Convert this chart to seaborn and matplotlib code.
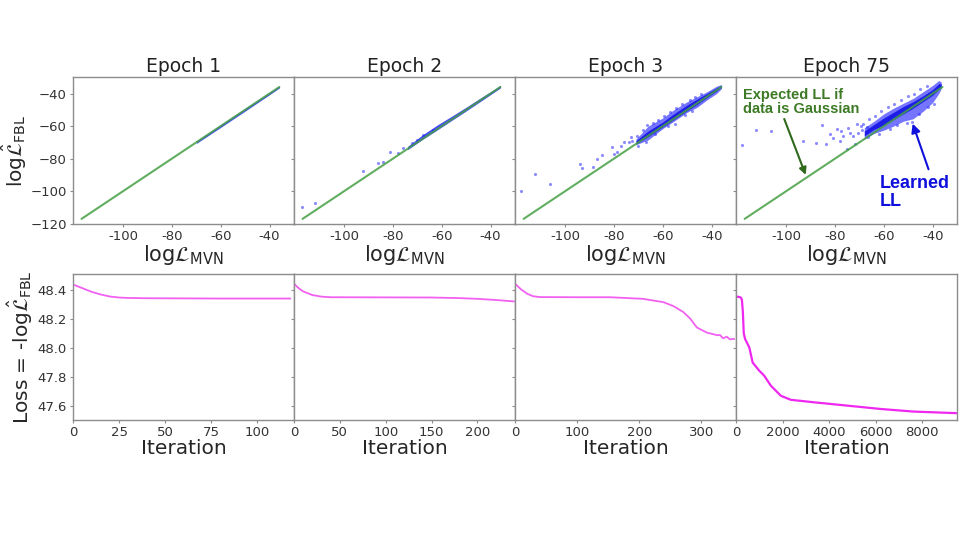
import numpy as np
import pandas as pd
import matplotlib
matplotlib.use("Agg")
import matplotlib.pyplot as plt
import seaborn as sns

# ---------------- data ----------------
titles = ["Epoch 1", "Epoch 2", "Epoch 3", "Epoch 75"]
diag_x = [-117, -36]

top_yticks = [-120, -100, -80, -60, -40]
top_ytick_labels = ["\u2212120", "\u2212100", "\u221280", "\u221260", "\u221240"]
top_xticks = [-100, -80, -60, -40]
top_xtick_labels = ["-100", "-80", "-60", "-40"]

# dense scatter band (outer edge and core) per panel
band1_x = [-70, -60, -50, -40, -36]
band1_lo = [-70.7, -60.8, -50.8, -40.7, -36.6]
band1_hi = [-69.3, -59.2, -49.2, -39.3, -35.4]

band2_x = [-74, -68, -62, -56, -50, -44, -38, -36]
band2_lo = [-74.5, -68.3, -62.5, -56.6, -50.7, -44.7, -38.6, -36.6]
band2_hi = [-72.5, -65.5, -59.5, -54.0, -48.4, -42.6, -37.0, -35.0]

band3_x = [-71, -66, -60, -56, -50, -46, -42, -38, -36]
band3_lo = [-71.5, -68.5, -61.5, -57.6, -51.5, -48.5, -44.0, -40.0, -37.0]
band3_hi = [-68.0, -60.0, -55.0, -50.5, -45.0, -42.0, -39.0, -35.5, -34.5]
core3_lo = [-71.0, -66.5, -60.5, -56.5, -50.5, -46.8, -42.6, -38.5, -36.3]
core3_hi = [-69.0, -63.0, -57.5, -53.0, -47.0, -43.5, -40.0, -36.5, -35.0]

band4_x = [-68, -64, -60, -56, -52, -48, -44, -40, -37.5, -36.5]
band4_lo = [-68.0, -64.5, -62.5, -60.0, -57.0, -55.5, -51.0, -45.5, -40.0, -37.0]
band4_hi = [-61.0, -57.0, -52.5, -49.0, -46.0, -43.0, -39.0, -35.0, -32.0, -33.0]
core4_lo = [-66.0, -62.0, -59.5, -56.0, -52.5, -49.0, -45.0, -41.0, -37.5, -36.0]
core4_hi = [-63.0, -59.0, -55.0, -51.5, -48.0, -45.0, -41.5, -37.5, -34.0, -34.0]

# isolated points
out2_x = [-117.3, -111.9, -92.2, -86.1, -81.3, -75.8, -67.6, -63.5, -78.0, -84.0, -72.0, -70.0]
out2_y = [-109.5, -107.0, -87.5, -82.6, -75.9, -73.5, -65.7, -62.3, -76.5, -82.0, -70.5, -68.5]
out3_x = [-118.0, -112.3, -106.1, -93.8, -93.1, -88.5, -86.9, -84.8, -81.0, -78.7,
          -75.9, -73.2, -72.5, -80.0, -77.0, -74.0, -70.5, -68.0, -66.5, -64.0,
          -62.0, -59.5, -57.0, -54.5, -52.0, -49.0, -47.0, -44.5, -70.0, -67.0,
          -63.0, -58.0, -55.0, -51.0, -48.0]
out3_y = [-99.9, -89.5, -95.8, -83.0, -85.6, -85.1, -80.2, -77.8, -73.1, -76.2,
          -69.6, -67.0, -69.0, -77.0, -72.0, -70.0, -66.0, -62.5, -59.5, -58.0,
          -56.5, -54.0, -51.5, -49.0, -46.5, -44.0, -42.0, -40.5, -72.0, -69.5,
          -65.0, -60.0, -58.5, -53.0, -50.5]
out4_x = [-118.0, -112.3, -106.4, -85.5, -87.6, -83.5, -80.7, -79.3, -78.0, -76.6,
          -74.5, -73.9, -71.8, -71.1, -93.1, -75.2, -69.5, -70.5, -72.5, -77.5,
          -82.0, -68.5, -66.0, -63.5, -61.0, -58.5, -56.0, -53.0, -50.0, -47.5,
          -45.0, -42.5, -66.5, -62.0, -57.5, -54.5, -50.5, -48.5, -45.5, -42.0,
          -39.5, -69.0, -67.0]
out4_y = [-71.8, -62.7, -63.3, -59.6, -70.3, -71.0, -67.1, -62.0, -69.1, -66.1,
          -61.1, -64.0, -71.0, -58.8, -69.1, -74.1, -60.0, -64.0, -66.0, -63.0,
          -65.0, -58.5, -55.5, -54.0, -51.0, -48.5, -46.5, -44.0, -41.5, -40.0,
          -37.5, -35.5, -67.0, -65.0, -61.5, -59.5, -58.0, -57.5, -52.5, -48.0,
          -46.5, -62.5, -60.5]

# loss curves
it1 = [0, 5, 10, 15, 20, 25, 30, 40, 60, 80, 100, 118]
loss1 = [48.435, 48.41, 48.385, 48.366, 48.352, 48.345, 48.342, 48.34, 48.339, 48.338, 48.338, 48.338]
it2 = [0, 5, 10, 20, 30, 40, 100, 150, 180, 200, 220, 240]
loss2 = [48.44, 48.41, 48.387, 48.362, 48.351, 48.347, 48.346, 48.345, 48.341, 48.336, 48.328, 48.318]
it3 = [0, 5, 10, 20, 29, 40, 100, 153, 206, 239, 255, 271, 282, 293, 309, 326, 330, 335, 341, 346, 353]
loss3 = [48.44, 48.42, 48.4, 48.37, 48.354, 48.348, 48.347, 48.347, 48.336, 48.313, 48.286, 48.245,
         48.2, 48.138, 48.103, 48.085, 48.087, 48.064, 48.075, 48.057, 48.06]
it4 = [0, 100, 200, 250, 290, 330, 385, 570, 712, 1000, 1210, 1496, 1923, 2350, 3340, 4770, 6200, 7620, 9470]
loss4 = [48.35, 48.35, 48.345, 48.33, 48.25, 48.1, 48.06, 48.0, 47.897, 47.84, 47.806, 47.737,
         47.668, 47.64, 47.623, 47.6, 47.577, 47.559, 47.548]

bottom_xticks = [[0, 25, 50, 75, 100], [0, 50, 100, 150, 200], [0, 100, 200, 300], [0, 2000, 4000, 6000, 8000]]
bottom_xlims = [(0, 120), (0, 241), (0, 356), (0, 9500)]
bottom_yticks = [47.6, 47.8, 48.0, 48.2, 48.4]

# ---------------- style ----------------
sns.set_theme(style="ticks")
plt.rcParams["font.family"] = ["DejaVu Sans"]
plt.rcParams["mathtext.fontset"] = "dejavusans"

GREEN = "#45a045"
BLUE = "#1a1aff"
MAG = "#f050f0"
SPINE = "#8c8c8c"

fig, axes = plt.subplots(2, 4, figsize=(9.6, 5.4), dpi=100)
fig.subplots_adjust(left=0.076, right=0.997, top=0.857, bottom=0.222, wspace=0, hspace=0.34)

bands = [
    (band1_x, band1_lo, band1_hi, None, None),
    (band2_x, band2_lo, band2_hi, None, None),
    (band3_x, band3_lo, band3_hi, core3_lo, core3_hi),
    (band4_x, band4_lo, band4_hi, core4_lo, core4_hi),
]
outs = [([], []), (out2_x, out2_y), (out3_x, out3_y), (out4_x, out4_y)]

for i in range(4):
    ax = axes[0, i]
    bx, blo, bhi, clo, chi = bands[i]
    ax.fill_between(bx, blo, bhi, color=BLUE, alpha=0.6 if i >= 2 else 0.8, lw=0)
    if clo is not None:
        ax.fill_between(bx, clo, chi, color="#0000e0", alpha=0.75, lw=0)
    ox, oy = outs[i]
    if ox:
        sns.scatterplot(x=ox, y=oy, ax=ax, color=BLUE, s=5, alpha=0.5, marker="o",
                        linewidth=0, legend=False)
    sns.lineplot(x=diag_x, y=diag_x, ax=ax, color=GREEN, lw=1.5, alpha=0.85)
    ax.set_xlim(-120.5, -30)
    ax.set_ylim(-120, -30)
    ax.set_xticks(top_xticks)
    ax.set_xticklabels(top_xtick_labels)
    ax.set_yticks(top_yticks)
    if i == 0:
        ax.set_yticklabels(top_ytick_labels)
        ax.set_ylabel(r"log$\hat{\mathcal{L}}_{\rm FBL}$", fontsize=14.5, labelpad=1)
    else:
        ax.set_yticklabels([])
    ax.set_xlabel(r"log$\mathcal{L}_{\rm MVN}$", fontsize=15, labelpad=0)
    ax.set_title(titles[i], fontsize=13.5, pad=4, color="#222222")

its = [it1, it2, it3, it4]
losses = [loss1, loss2, loss3, loss4]
for i in range(4):
    ax = axes[1, i]
    sns.lineplot(x=its[i], y=losses[i], ax=ax, color=MAG if i < 3 else "#ee10ee",
                 lw=1.3 if i < 3 else 1.6, alpha=0.9)
    ax.set_xlim(*bottom_xlims[i])
    ax.set_ylim(47.5, 48.51)
    ax.set_xticks(bottom_xticks[i])
    ax.set_yticks(bottom_yticks)
    if i == 0:
        ax.set_yticklabels([f"{v:.1f}" for v in bottom_yticks])
        ax.set_ylabel(r"Loss = -log$\hat{\mathcal{L}}_{\rm FBL}$", fontsize=14.5, labelpad=2)
    else:
        ax.set_yticklabels([])
    ax.set_xlabel("Iteration", fontsize=14.5, labelpad=0)

for ax in axes.flat:
    for s in ax.spines.values():
        s.set_visible(True)
        s.set_color(SPINE)
        s.set_linewidth(1.0)
    ax.tick_params(axis="both", labelsize=9.5, length=2.5, width=0.8, color=SPINE,
                   labelcolor="#333333", pad=2)

ax4 = axes[0, 3]
ax4.annotate("Expected LL if\ndata is Gaussian", xy=(-92, -90), xytext=(-117.5, -45),
             fontsize=10.5, fontweight="bold", color="#3d7a25", family="Liberation Sans",
             ha="left", va="center", linespacing=1.0,
             arrowprops=dict(arrowstyle="-|>", color="#2f6a1c", lw=1.5,
                             shrinkA=0, shrinkB=0, relpos=(0.34, 0.0)))
ax4.annotate("Learned\nLL", xy=(-48.2, -58.5), xytext=(-61.5, -101),
             fontsize=13, fontweight="bold", color="#1010dd", family="Liberation Sans",
             ha="left", va="center", linespacing=1.1,
             arrowprops=dict(arrowstyle="-|>", color="#1010dd", lw=1.5,
                             shrinkA=2, shrinkB=0, relpos=(0.72, 1.0)))

fig.savefig("out.png", dpi=100, facecolor="white")
